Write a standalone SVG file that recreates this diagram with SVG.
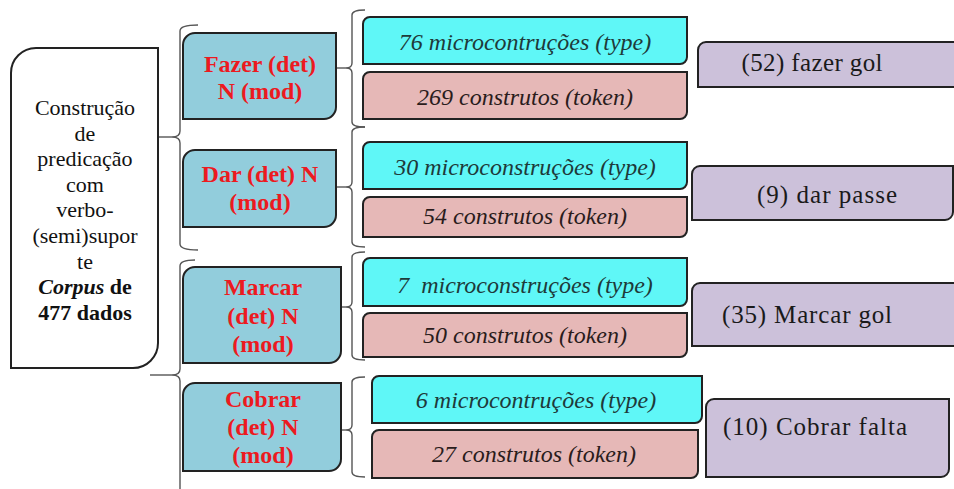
<svg xmlns="http://www.w3.org/2000/svg" width="954" height="489" viewBox="0 0 954 489">
  <style>
    text, tspan { font-family: 'Liberation Serif', 'DejaVu Serif', serif !important; }
    .box { stroke: #222; stroke-width: 2; }
    .root { fill: #fff; }
    .verb { fill: #92cddc; }
    .type { fill: #5ff7f7; }
    .token { fill: #e6b8b7; }
    .ex { fill: #ccc1da; }
    .brace { fill: none; stroke: #555; stroke-width: 1.4; }
    .t-root { font-size: 22px; fill: #111; text-anchor: middle; }
    .t-verb { font-size: 24px; font-weight: bold; fill: #ec1a1f; text-anchor: middle; }
    .t-type { font-size: 24px; font-style: italic; fill: #1e3a3a; text-anchor: middle; white-space: pre; }
    .t-token { font-size: 24px; font-style: italic; fill: #2a1c1c; text-anchor: middle; }
    .t-ex { font-size: 25px; fill: #1a1a1a; text-anchor: middle; }
  </style>
  <rect width="954" height="489" fill="#fff"/>

  <!-- braces and joining strokes -->
  <g id="connectors">
    <path class="brace" d="M198,25 Q180,25 180,31 L180,131 Q180,137 172,137 Q180,137 180,143 L180,244 Q180,250 198,250"/>
    <line class="brace" x1="158" y1="137" x2="172" y2="137"/>
    <path class="brace" d="M195,260 Q180,260 180,266 L180,369 Q180,375 172,375 Q180,375 180,381 L180,500"/>
    <line class="brace" x1="150" y1="375" x2="172" y2="375"/>
    <path class="brace" d="M365,10 Q352,10 352,15 L352,63 Q352,68 346,68 Q352,68 352,73 L352,122 Q352,127 365,127"/>
    <line class="brace" x1="336" y1="68" x2="346" y2="68"/>
    <path class="brace" d="M365,127 Q352,127 352,132 L352,182 Q352,187 346,187 Q352,187 352,192 L352,242 Q352,247 365,247"/>
    <line class="brace" x1="336" y1="187" x2="346" y2="187"/>
    <path class="brace" d="M365,252 Q352,252 352,257 L352,302 Q352,307 346,307 Q352,307 352,312 L352,355 Q352,360 365,360"/>
    <line class="brace" x1="341" y1="307" x2="346" y2="307"/>
    <path class="brace" d="M365,377 Q352,377 352,382 L352,425 Q352,430 346,430 Q352,430 352,435 L352,472 Q352,477 365,477"/>
    <line class="brace" x1="341" y1="430" x2="346" y2="430"/>
  </g>

  <g id="root">
    <path class="box root" d="M11,73 A25,25 0 0 1 36,48 H158 V343 A25,25 0 0 1 133,368 H11 Z"/>
    <text class="t-root" font-family="Liberation Serif" x="85" y="115">Construção</text>
    <text class="t-root" font-family="Liberation Serif" x="85" y="140.6">de</text>
    <text class="t-root" font-family="Liberation Serif" x="85" y="166.2">predicação</text>
    <text class="t-root" font-family="Liberation Serif" x="85" y="191.8">com</text>
    <text class="t-root" font-family="Liberation Serif" x="85" y="217.4">verbo-</text>
    <text class="t-root" font-family="Liberation Serif" x="85" y="243">(semi)supor</text>
    <text class="t-root" font-family="Liberation Serif" x="85" y="268.6">te</text>
    <text class="t-root" font-family="Liberation Serif" x="85" y="294.2" font-weight="bold"><tspan font-style="italic">Corpus</tspan> de</text>
    <text class="t-root" font-family="Liberation Serif" x="85" y="319.8" font-weight="bold">477 dados</text>
  </g>

  <g id="fazer">
    <path class="box verb" d="M183,45 A12,12 0 0 1 195,33 H336 V107 A12,12 0 0 1 324,119 H183 Z"/>
    <text class="t-verb" font-family="Liberation Serif" x="260" y="72">Fazer (det)</text>
    <text class="t-verb" font-family="Liberation Serif" x="260" y="99">N (mod)</text>
  </g>
  <g id="dar">
    <path class="box verb" d="M183,162 A12,12 0 0 1 195,150 H336 V215 A12,12 0 0 1 324,227 H183 Z"/>
    <text class="t-verb" font-family="Liberation Serif" x="260" y="182">Dar (det) N</text>
    <text class="t-verb" font-family="Liberation Serif" x="260" y="210">(mod)</text>
  </g>
  <g id="marcar">
    <path class="box verb" d="M183,279 A12,12 0 0 1 195,267 H341 V351 A12,12 0 0 1 329,363 H183 Z"/>
    <text class="t-verb" font-family="Liberation Serif" x="263" y="295">Marcar</text>
    <text class="t-verb" font-family="Liberation Serif" x="263" y="324">(det) N</text>
    <text class="t-verb" font-family="Liberation Serif" x="263" y="352">(mod)</text>
  </g>
  <g id="cobrar">
    <path class="box verb" d="M183,395 A12,12 0 0 1 195,383 H341 V459 A12,12 0 0 1 329,471 H183 Z"/>
    <text class="t-verb" font-family="Liberation Serif" x="263" y="407">Cobrar</text>
    <text class="t-verb" font-family="Liberation Serif" x="263" y="435">(det) N</text>
    <text class="t-verb" font-family="Liberation Serif" x="263" y="463">(mod)</text>
  </g>

  <g id="fazer-type">
    <path class="box type" d="M363,24 A7,7 0 0 1 370,17 H687 V57 A7,7 0 0 1 680,64 H363 Z"/>
    <text class="t-type" font-family="Liberation Serif" x="525" y="50">76 microcontruções (type)</text>
  </g>
  <g id="fazer-token">
    <path class="box token" d="M363,79 A7,7 0 0 1 370,72 H687 V112 A7,7 0 0 1 680,119 H363 Z"/>
    <text class="t-token" font-family="Liberation Serif" x="525" y="105">269 construtos (token)</text>
  </g>
  <g id="dar-type">
    <path class="box type" d="M363,149 A7,7 0 0 1 370,142 H687 V182 A7,7 0 0 1 680,189 H363 Z"/>
    <text class="t-type" font-family="Liberation Serif" x="525" y="175">30 microconstruções (type)</text>
  </g>
  <g id="dar-token">
    <path class="box token" d="M363,204 A7,7 0 0 1 370,197 H687 V230 A7,7 0 0 1 680,237 H363 Z"/>
    <text class="t-token" font-family="Liberation Serif" x="525" y="224">54 construtos (token)</text>
  </g>
  <g id="marcar-type">
    <path class="box type" d="M363,265 A7,7 0 0 1 370,258 H687 V299 A7,7 0 0 1 680,306 H363 Z"/>
    <text class="t-type" font-family="Liberation Serif" x="525" y="293">7  microconstruções (type)</text>
  </g>
  <g id="marcar-token">
    <path class="box token" d="M363,320 A7,7 0 0 1 370,313 H687 V350 A7,7 0 0 1 680,357 H363 Z"/>
    <text class="t-token" font-family="Liberation Serif" x="525" y="343">50 construtos (token)</text>
  </g>
  <g id="cobrar-type">
    <path class="box type" d="M372,383 A7,7 0 0 1 379,376 H702 V416 A7,7 0 0 1 695,423 H372 Z"/>
    <text class="t-type" font-family="Liberation Serif" x="536" y="408">6 microcontruções (type)</text>
  </g>
  <g id="cobrar-token">
    <path class="box token" d="M372,437 A7,7 0 0 1 379,430 H698 V471 A7,7 0 0 1 691,478 H372 Z"/>
    <text class="t-token" font-family="Liberation Serif" x="534" y="462">27 construtos (token)</text>
  </g>

  <g id="ex-fazer">
    <path class="box ex" d="M698,50 A8,8 0 0 1 706,42 H965 V87 H698 Z"/>
    <text class="t-ex" font-family="Liberation Serif" x="812" y="71" textLength="141">(52) fazer gol</text>
  </g>
  <g id="ex-dar">
    <path class="box ex" d="M692,174 A8,8 0 0 1 700,166 H953 V212 A8,8 0 0 1 945,220 H692 Z"/>
    <text class="t-ex" font-family="Liberation Serif" x="827" y="203" textLength="140">(9) dar passe</text>
  </g>
  <g id="ex-marcar">
    <path class="box ex" d="M692,291 A8,8 0 0 1 700,283 H965 V346 H692 Z"/>
    <text class="t-ex" font-family="Liberation Serif" x="807" y="323" textLength="170">(35) Marcar gol</text>
  </g>
  <g id="ex-cobrar">
    <path class="box ex" d="M706,407 A8,8 0 0 1 714,399 H949 V469 A8,8 0 0 1 941,477 H706 Z"/>
    <text class="t-ex" font-family="Liberation Serif" x="815" y="435" textLength="184">(10) Cobrar falta</text>
  </g>
</svg>
